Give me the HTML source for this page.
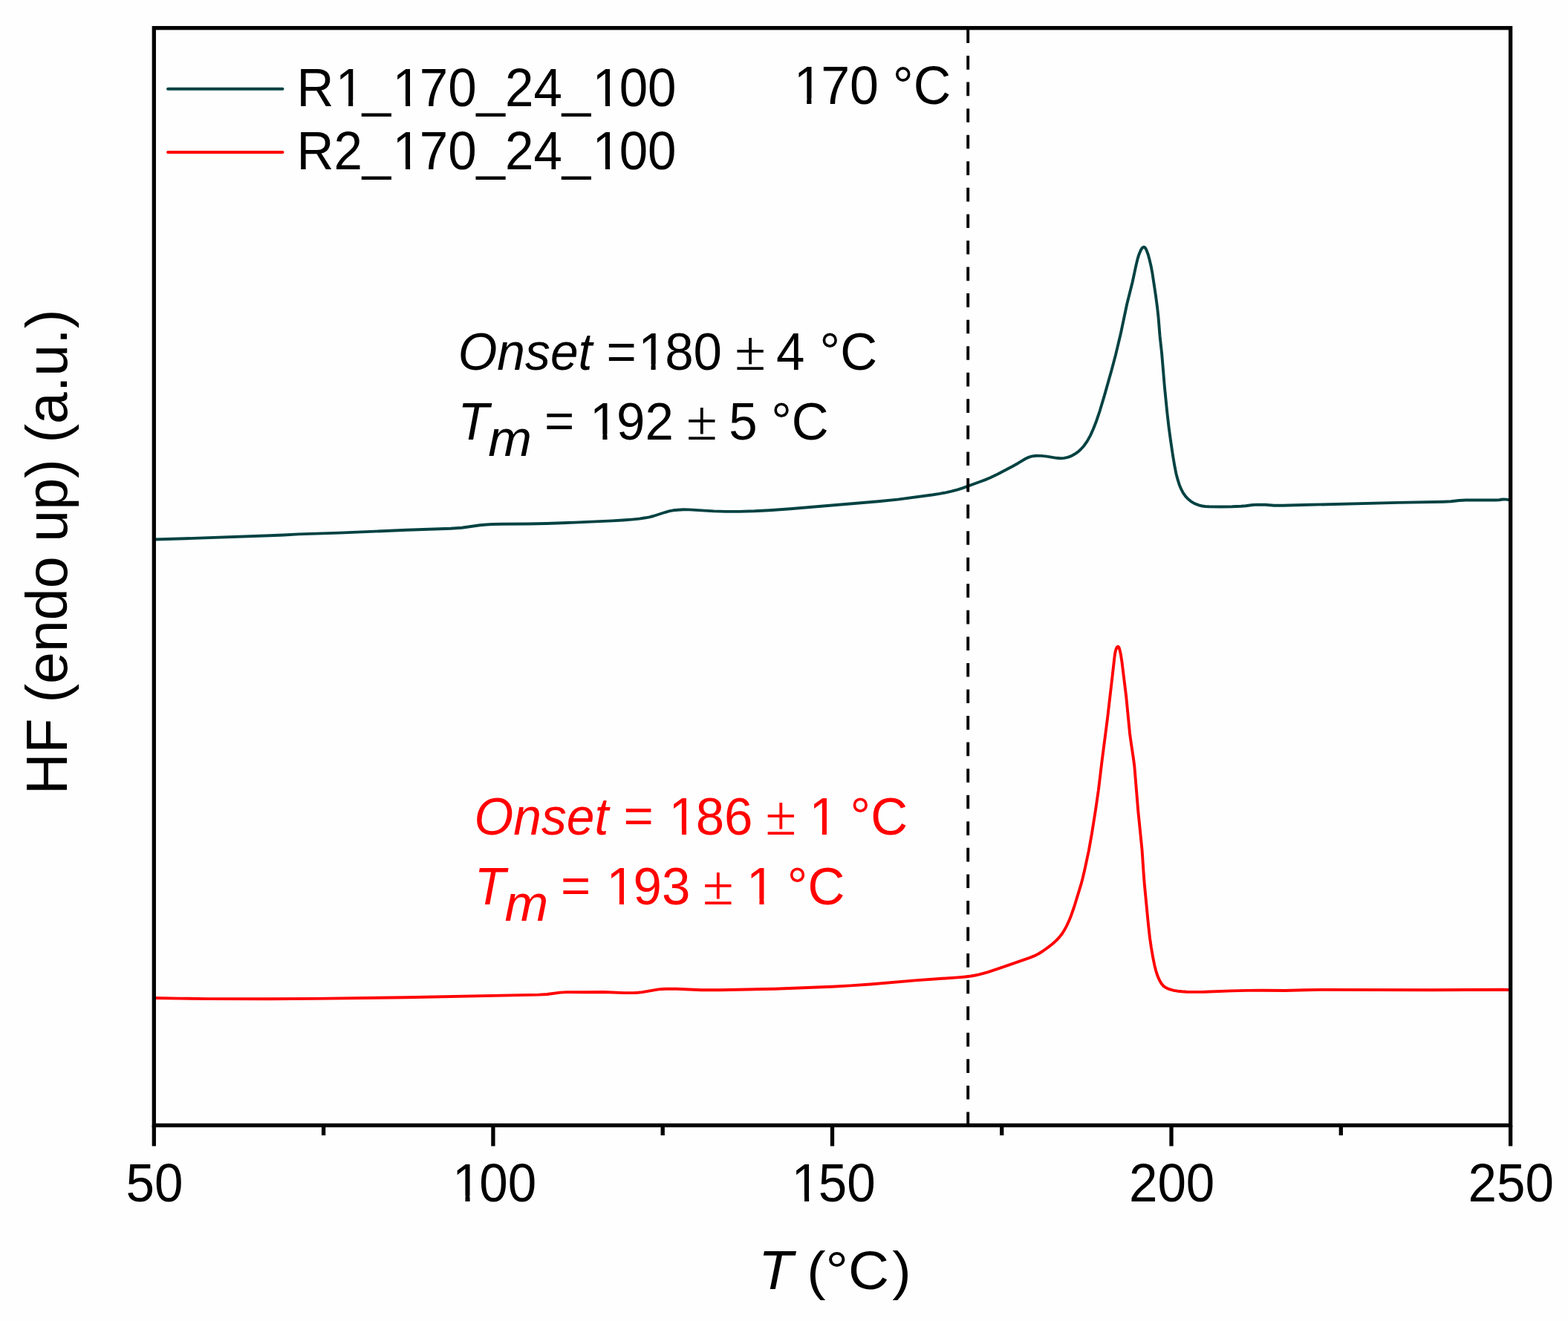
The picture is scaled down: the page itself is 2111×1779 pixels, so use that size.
<!DOCTYPE html>
<html><head><meta charset="utf-8"><title>DSC thermogram</title>
<style>
html,body{margin:0;padding:0;background:#fefefe;overflow:hidden;}
svg{display:block;}
text{font-family:"Liberation Sans",Arial,sans-serif;font-kerning:none;}
</style></head>
<body>
<svg width="2111" height="1779" viewBox="0 0 2111 1779">
<defs><mask id="ft" maskUnits="userSpaceOnUse" x="0" y="0" width="2111" height="1779">
<rect x="0" y="0" width="2111" height="1779" fill="#fff"/><g fill="#000"><rect x="455.79" y="134.71" width="13.31" height="9.59"/><rect x="475.21" y="134.71" width="12.77" height="9.59"/><rect x="532.65" y="134.71" width="13.31" height="9.59"/><rect x="552.07" y="134.71" width="12.77" height="9.59"/><rect x="801.66" y="134.71" width="13.31" height="9.59"/><rect x="821.08" y="134.71" width="12.77" height="9.59"/><rect x="532.65" y="220.31" width="13.31" height="9.59"/><rect x="552.07" y="220.31" width="12.77" height="9.59"/><rect x="801.66" y="220.31" width="13.31" height="9.59"/><rect x="821.08" y="220.31" width="12.77" height="9.59"/><rect x="1072.75" y="132.40" width="13.45" height="9.60"/><rect x="1092.38" y="132.40" width="12.91" height="9.60"/><rect x="613.12" y="1610.36" width="13.33" height="9.54"/><rect x="632.56" y="1610.36" width="12.79" height="9.54"/><rect x="1069.69" y="1610.36" width="13.33" height="9.54"/><rect x="1089.14" y="1610.36" width="12.79" height="9.54"/><rect x="863.22" y="490.28" width="13.30" height="9.52"/><rect x="882.61" y="490.28" width="12.76" height="9.52"/><rect x="798.09" y="584.48" width="13.30" height="9.52"/><rect x="817.49" y="584.48" width="12.76" height="9.52"/><rect x="904.66" y="1116.48" width="13.30" height="9.52"/><rect x="924.05" y="1116.48" width="12.76" height="9.52"/><rect x="1093.53" y="1116.48" width="13.30" height="9.52"/><rect x="1112.93" y="1116.48" width="12.76" height="9.52"/><rect x="820.56" y="1210.48" width="13.30" height="9.52"/><rect x="839.95" y="1210.48" width="12.76" height="9.52"/><rect x="1009.13" y="1210.48" width="13.30" height="9.52"/><rect x="1028.53" y="1210.48" width="12.76" height="9.52"/></g></mask></defs>
<rect x="0" y="0" width="2111" height="1779" fill="#fefefe"/>
<g fill="none" stroke-linejoin="round" stroke-linecap="round" stroke-width="3.9">
<path d="M207.3,726.5 249.4,725.3 363.2,721.3 382.2,720.5 401.6,719.4 456.8,717.6 547.4,713.8 606.5,711.7 621.6,710.7 646.1,707.3 654.8,706.5 663.3,706.0 675.9,705.7 711.3,705.5 736.0,705.0 773.6,703.6 824.2,701.4 838.8,700.5 850.5,699.6 860.6,698.6 869.1,697.3 874.4,696.3 879.7,695.0 895.1,690.0 900.7,688.4 906.3,687.3 912.2,686.7 920.0,686.3 928.3,686.4 961.0,688.4 977.3,688.9 995.1,688.9 1015.3,688.3 1035.7,687.2 1063.7,685.2 1182.5,675.3 1208.7,672.6 1256.3,666.3 1265.0,664.9 1273.4,663.3 1281.8,661.4 1289.5,659.3 1295.7,657.3 1318.7,649.0 1326.5,646.1 1333.3,643.2 1343.2,638.4 1363.7,627.7 1370.8,623.7 1381.1,617.5 1384.8,615.9 1388.5,614.7 1391.4,614.2 1394.5,613.8 1402.0,613.9 1409.1,614.6 1422.6,616.8 1427.8,617.2 1432.7,616.9 1437.4,615.9 1440.3,614.9 1443.4,613.5 1446.4,611.8 1449.4,609.9 1452.2,607.7 1454.9,605.3 1459.5,600.2 1463.7,594.1 1467.9,586.6 1471.9,577.8 1476.0,567.2 1480.7,553.3 1486.9,532.6 1496.6,498.2 1502.1,477.4 1508.6,450.3 1517.2,409.5 1524.6,380.0 1529.5,357.2 1531.5,348.9 1533.5,342.4 1535.8,337.0 1536.8,335.2 1537.9,333.8 1538.9,333.0 1539.8,332.7 1540.7,332.9 1541.6,333.6 1542.6,335.0 1543.5,336.9 1545.7,342.8 1547.8,350.6 1549.7,358.7 1551.5,368.5 1556.0,398.4 1558.0,413.4 1559.5,427.0 1561.6,453.0 1564.1,475.9 1567.9,521.4 1571.3,555.5 1573.6,575.5 1576.2,594.5 1578.9,612.8 1581.5,628.2 1583.4,637.7 1585.5,645.7 1587.7,652.7 1590.2,658.7 1592.9,663.9 1596.1,668.4 1599.5,672.0 1603.5,675.3 1607.0,677.4 1610.9,679.2 1614.8,680.6 1618.8,681.5 1622.5,682.0 1627.6,682.3 1643.9,682.5 1659.0,682.3 1670.8,681.8 1677.1,681.3 1686.4,680.0 1692.9,679.6 1703.2,679.8 1715.4,680.8 1726.8,680.8 1762.8,679.8 1881.9,676.9 1943.6,675.7 1953.4,675.3 1964.1,674.0 1973.6,673.5 2012.8,673.5 2018.5,673.2 2023.1,672.5 2024.8,672.4 2027.9,672.6 2032.8,673.3" stroke="#034242"/>
<path d="M207.3,1344.0 241.3,1344.6 279.2,1345.1 361.9,1345.3 424.3,1344.9 546.3,1343.2 725.3,1339.6 736.6,1339.0 754.2,1336.6 763.0,1336.1 785.4,1336.2 813.1,1336.0 840.5,1337.1 852.8,1337.1 858.9,1336.7 864.8,1336.1 886.7,1332.4 891.7,1332.0 897.0,1331.7 910.6,1331.8 944.6,1333.3 969.3,1333.3 1042.8,1331.7 1120.1,1328.7 1144.5,1327.4 1172.0,1325.5 1234.8,1320.1 1289.2,1316.4 1299.2,1315.5 1307.3,1314.5 1312.9,1313.5 1318.1,1312.4 1329.4,1309.3 1348.0,1303.1 1386.1,1289.9 1392.3,1287.4 1398.1,1284.5 1403.8,1281.0 1410.9,1275.9 1416.9,1271.3 1421.7,1266.9 1426.0,1262.4 1429.7,1257.7 1432.7,1253.0 1435.8,1247.4 1438.7,1241.2 1441.5,1234.5 1446.4,1220.5 1455.3,1191.4 1457.5,1183.2 1460.8,1169.1 1465.8,1145.6 1469.8,1123.3 1475.0,1090.8 1478.8,1064.5 1483.8,1023.1 1490.9,968.3 1497.9,907.8 1500.5,884.6 1501.4,878.6 1502.5,874.4 1503.8,871.7 1504.4,871.1 1505.1,870.8 1505.7,871.1 1506.4,871.9 1507.5,875.2 1508.9,881.4 1510.3,890.3 1516.2,938.1 1521.0,987.4 1522.5,998.6 1526.1,1022.6 1527.3,1031.9 1532.3,1092.5 1537.5,1144.1 1539.7,1177.0 1540.8,1191.0 1546.0,1245.2 1548.1,1263.7 1549.9,1276.0 1552.3,1289.9 1554.3,1299.7 1556.2,1307.3 1558.5,1314.4 1561.1,1320.3 1563.7,1324.8 1566.4,1327.9 1568.9,1329.7 1572.1,1331.3 1575.9,1332.7 1580.2,1333.8 1585.4,1334.7 1591.1,1335.3 1597.7,1335.8 1604.8,1335.9 1621.4,1335.8 1658.4,1334.4 1679.4,1333.9 1699.4,1333.7 1730.1,1334.0 1757.4,1333.2 1778.2,1332.9 1926.4,1333.3 2024.0,1332.8 2033.1,1333.0 2033.8,1333.2 2032.0,1333.4" stroke="#ff0000"/>
</g>
<line x1="1303.2" y1="39.5" x2="1303.2" y2="1515" stroke="#000" stroke-width="3.9" stroke-dasharray="18.6 16.96"/>
<g stroke="#000" stroke-width="5.3" fill="none">
<rect x="207.3" y="37.7" width="1826.3" height="1477.8"/>
<line x1="207.3" y1="1515.5" x2="207.3" y2="1543.5"/><line x1="663.9" y1="1515.5" x2="663.9" y2="1543.5"/><line x1="1120.5" y1="1515.5" x2="1120.5" y2="1543.5"/><line x1="1577.0" y1="1515.5" x2="1577.0" y2="1543.5"/><line x1="2033.6" y1="1515.5" x2="2033.6" y2="1543.5"/><line x1="435.6" y1="1515.5" x2="435.6" y2="1529"/><line x1="892.2" y1="1515.5" x2="892.2" y2="1529"/><line x1="1348.7" y1="1515.5" x2="1348.7" y2="1529"/><line x1="1805.3" y1="1515.5" x2="1805.3" y2="1529"/>
</g>
<g stroke-width="3.9" stroke-linecap="round">
<line x1="226" y1="119.7" x2="380.5" y2="119.7" stroke="#034242"/>
<line x1="226" y1="205" x2="380.5" y2="205" stroke="#ff0000"/>
</g>
<g mask="url(#ft)">
<text transform="translate(399.53 142.70) scale(0.9571 1)" font-size="72.20" dx="0.00 2.40 -2.40 2.40 -2.40 0.00 0.00 0.00 0.00 0.00 2.40 -2.40" fill="#000">R1_170_24_100</text>
<text transform="translate(399.53 228.30) scale(0.9571 1)" font-size="72.20" dx="0.00 0.00 0.00 2.40 -2.40 0.00 0.00 0.00 0.00 0.00 2.40 -2.40" fill="#000">R2_170_24_100</text>
<text transform="translate(1066.31 140.40) scale(0.9668 1)" font-size="72.30" dx="2.40 -2.40" fill="#000">170</text>
<text transform="translate(1201.83 140.40) scale(0.9668 1)" font-size="72.30" fill="#000">°C</text>
<text transform="translate(169.41 1618.30) scale(0.9678 1)" font-size="71.50" fill="#000">50</text>
<text transform="translate(606.75 1618.30) scale(0.9678 1)" font-size="71.50" dx="2.37 -2.37" fill="#000">100</text>
<text transform="translate(1063.32 1618.30) scale(0.9678 1)" font-size="71.50" dx="2.37 -2.37" fill="#000">150</text>
<text transform="translate(1519.90 1618.30) scale(0.9678 1)" font-size="71.50" fill="#000">200</text>
<text transform="translate(1976.47 1618.30) scale(0.9678 1)" font-size="71.50" fill="#000">250</text>
<text transform="translate(616.63 498.20) scale(0.9680 1)" font-size="70.00" font-style="italic" fill="#000">Onset</text>
<text transform="translate(816.58 498.20) scale(0.9691 1)" font-size="71.20" dx="0.00 2.36 -2.36" fill="#000">=180</text>
<text transform="translate(989.15 498.20) scale(1.0000 1)" font-size="76.00" style="font-family:&quot;Liberation Serif&quot;,serif" fill="#000">±</text>
<text transform="translate(1045.02 498.20) scale(0.9691 1)" font-size="71.20" fill="#000">4</text>
<text transform="translate(1103.61 498.20) scale(0.9691 1)" font-size="71.20" fill="#000">°C</text>
<text transform="translate(616.55 592.40) scale(0.9650 1)" font-size="70.90" font-style="italic" fill="#000">T</text>
<text transform="translate(657.33 613.60) scale(1.0190 1)" font-size="69.20" font-style="italic" fill="#000">m</text>
<text transform="translate(733.03 589.28) scale(0.9691 0.9000)" font-size="71.20" fill="#000">=</text>
<text transform="translate(791.75 592.40) scale(0.9691 1)" font-size="71.20" dx="2.36 -2.36" fill="#000">192</text>
<text transform="translate(924.05 592.40) scale(1.0000 1)" font-size="76.00" style="font-family:&quot;Liberation Serif&quot;,serif" fill="#000">±</text>
<text transform="translate(981.34 592.40) scale(0.9691 1)" font-size="71.20" fill="#000">5</text>
<text transform="translate(1038.21 592.40) scale(0.9691 1)" font-size="71.20" fill="#000">°C</text>
<text transform="translate(638.53 1124.40) scale(0.9680 1)" font-size="70.00" font-style="italic" fill="#ff0000">Onset</text>
<text transform="translate(839.43 1121.28) scale(0.9691 0.9000)" font-size="71.20" fill="#ff0000">=</text>
<text transform="translate(898.31 1124.40) scale(0.9691 1)" font-size="71.20" dx="2.36 -2.36" fill="#ff0000">186</text>
<text transform="translate(1030.55 1124.40) scale(1.0000 1)" font-size="76.00" style="font-family:&quot;Liberation Serif&quot;,serif" fill="#ff0000">±</text>
<text transform="translate(1087.19 1124.40) scale(0.9691 1)" font-size="71.20" dx="2.36" fill="#ff0000">1</text>
<text transform="translate(1144.61 1124.40) scale(0.9691 1)" font-size="71.20" fill="#ff0000">°C</text>
<text transform="translate(638.65 1218.40) scale(0.9650 1)" font-size="70.90" font-style="italic" fill="#ff0000">T</text>
<text transform="translate(679.53 1239.60) scale(1.0190 1)" font-size="69.20" font-style="italic" fill="#ff0000">m</text>
<text transform="translate(755.03 1215.28) scale(0.9691 0.9000)" font-size="71.20" fill="#ff0000">=</text>
<text transform="translate(814.21 1218.40) scale(0.9691 1)" font-size="71.20" dx="2.36 -2.36" fill="#ff0000">193</text>
<text transform="translate(946.05 1218.40) scale(1.0000 1)" font-size="76.00" style="font-family:&quot;Liberation Serif&quot;,serif" fill="#ff0000">±</text>
<text transform="translate(1002.79 1218.40) scale(0.9691 1)" font-size="71.20" dx="2.36" fill="#ff0000">1</text>
<text transform="translate(1059.81 1218.40) scale(0.9691 1)" font-size="71.20" fill="#ff0000">°C</text>
<text transform="translate(1021.05 1736.00) scale(1.0330 1)" font-size="73.80" font-style="italic" fill="#000">T</text>
<text transform="translate(1086.17 1736.00) scale(1.0510 1)" dx="0 0 0 4.09" font-size="72.50" fill="#000">(°C)</text>
<text transform="translate(90 1070.12) rotate(-90) scale(0.9948 1)" font-size="77.50" fill="#000">HF</text>
<text transform="translate(90 946.58) rotate(-90) scale(0.9948 1)" font-size="77.50" fill="#000">(endo</text>
<text transform="translate(90 729.71) rotate(-90) scale(0.9948 1)" font-size="77.50" fill="#000">up)</text>
<text transform="translate(90 596.58) rotate(-90) scale(0.9948 1)" font-size="77.50" fill="#000">(a.u.)</text>
</g>
</svg>
</body></html>
